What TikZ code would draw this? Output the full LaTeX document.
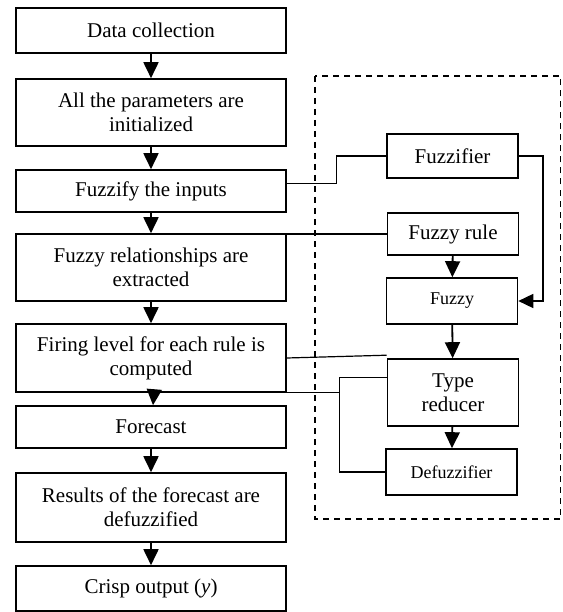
\documentclass[tikz,border=0pt]{standalone}
\usepackage{fontspec}
\setmainfont{Liberation Serif}
\usetikzlibrary{arrows.meta,calc}
\begin{document}
\begin{tikzpicture}[x=1pt,y=-1pt,
  lbox/.style={draw,line width=1.6pt,minimum width=270pt,align=center,inner sep=0pt,font=\fontsize{21}{24}\selectfont},
  rbox/.style={draw,line width=1.6pt,minimum width=131pt,align=center,inner sep=0pt,font=\fontsize{21}{24}\selectfont},
  flow/.style={line width=1.8pt,-{Triangle[length=16pt,width=15pt]}},
  conn/.style={line width=1.2pt},
  carrow/.style={line width=1.6pt,-{Triangle[length=15pt,width=14pt]}}]
\useasboundingbox (0,0) rectangle (562,612);
% left column
\node[lbox,minimum height=45pt] (b1) at (151,30.5) {Data collection};
\node[lbox,minimum height=67pt] (b2) at (151,112.5) {All the parameters are\\initialized};
\node[lbox,minimum height=42pt] (b3) at (151,191) {\raisebox{-4pt}{Fuzzify the inputs}};
\node[lbox,minimum height=67pt] (b4) at (151,267.5) {Fuzzy relationships are\\extracted};
\node[lbox,minimum height=68pt] (b5) at (151,358) {Firing level for each rule is\\computed};
\node[lbox,minimum height=42pt] (b6) at (151,427) {Forecast};
\node[lbox,minimum height=69pt] (b7) at (151,507.5) {Results of the forecast are\\defuzzified};
\node[lbox,minimum height=45pt] (b8) at (151,588.5) {Crisp output (\textit{y})};
% dashed frame
\draw[line width=1.3pt,dash pattern=on 6pt off 5pt] (315,76) rectangle (560.5,519);
% right column
\node[rbox,minimum height=44pt] (fz) at (452.5,156) {Fuzzifier};
\node[rbox,minimum height=42pt] (fr) at (453,234) {\raisebox{-3pt}{Fuzzy rule}};
\node[rbox,minimum height=46pt,font=\fontsize{18}{21}\selectfont] (fy) at (452,301) {Fuzzy};
\node[rbox,minimum height=67pt] (tr) at (453,392.5) {Type\\reducer};
\node[rbox,minimum height=46pt,font=\fontsize{18}{21}\selectfont] (dz) at (451.5,472) {Defuzzifier};
% left flow arrows
\draw[flow] (b1) -- (b2);
\draw[flow] (b2) -- (b3);
\draw[flow] (b3) -- (b4);
\draw[flow] (b4) -- (b5);
\draw[flow] ($(b5.south)+(3,0)$) -- ($(b6.north)+(2,0)$);
\draw[flow] (b6) -- (b7);
\draw[flow] (b7) -- (b8);
% right flow arrows
\draw[flow] (fr) -- (fy);
\draw[flow] (fy) -- (tr);
\draw[flow] (tr) -- (dz);
% connectors
\draw[conn] ($(b3.north east)+(0,14)$) -- ++(50,0) |- (fz.west);
\draw[carrow] (fz.east) -- ++(24,0) |- (fy.east);
\draw[conn] (fr.west) -- (fr.west -| b4.east);
\draw[conn] (b5.east) -- ($(tr.north west)+(0,-3)$);
\draw[conn] ($(tr.north west)+(0,19)$) -- ++(-47,0) coordinate (j) |- (dz.west);
\draw[conn] (b5.south east) -- (b5.south east -| j);
\end{tikzpicture}
\end{document}
